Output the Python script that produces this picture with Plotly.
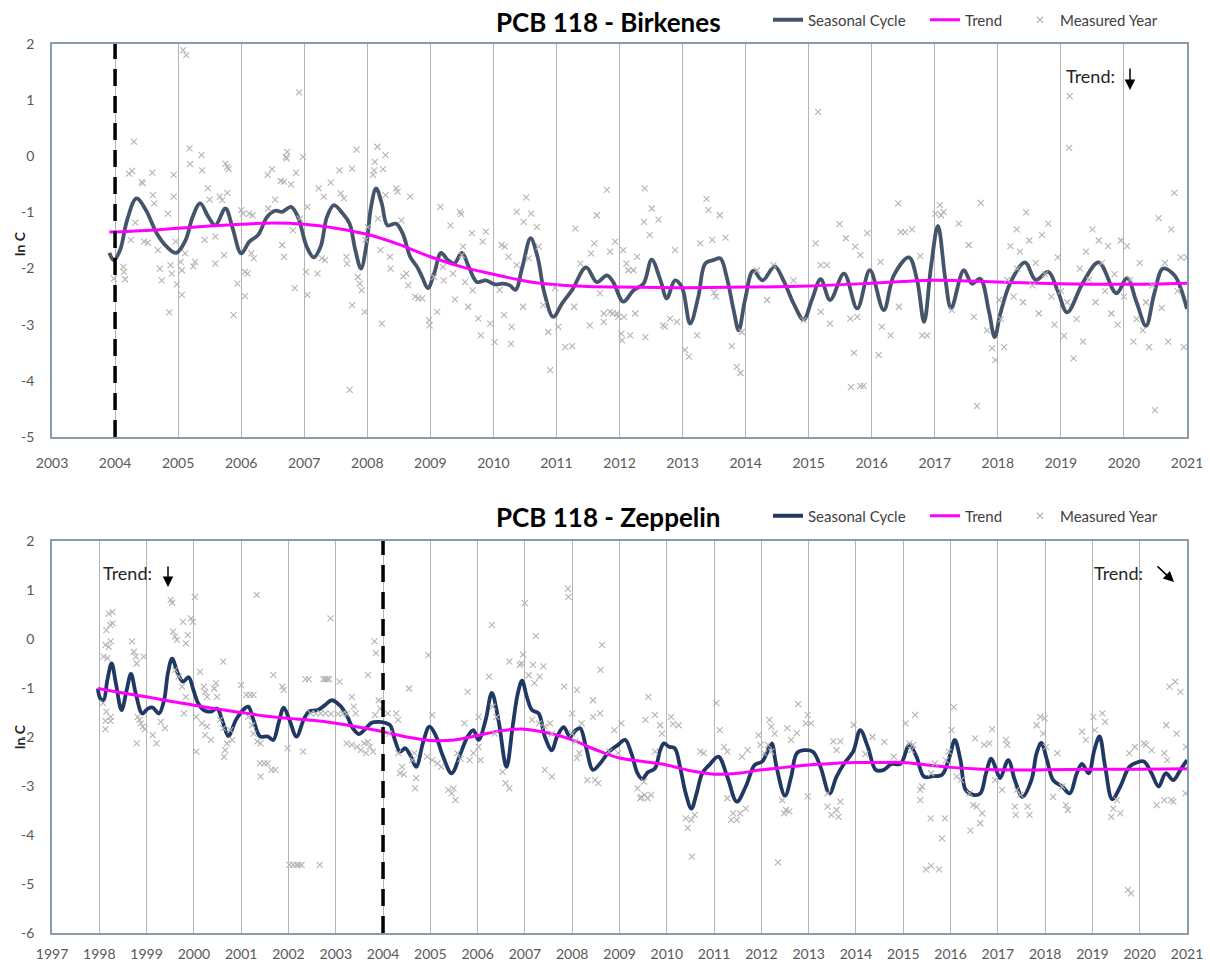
import plotly.graph_objects as go

# ---------------- DATA ----------------
top_title = "PCB 118 - Birkenes"
bottom_title = "PCB 118 - Zeppelin"
legend_names = ["Seasonal Cycle", "Trend", "Measured Year"]

top_x_ticks = list(range(2003, 2022))
top_y_ticks = [-5, -4, -3, -2, -1, 0, 1, 2]
top_y_labels = ["-5", "-4", "-3", "-2", "-1", "0", "1", "2"]
bottom_x_ticks = list(range(1997, 2022))
bottom_y_ticks = [-6, -5, -4, -3, -2, -1, 0, 1, 2]
bottom_y_labels = ["-6", "-5", "-4", "-3", "-2", "-1", "0", "1", "2"]

top_start_year = 2004
bottom_start_year = 2004

top_cycle = [
    (2003.91, -1.72), (2003.98, -1.85), (2004.08, -1.67), (2004.19, -1.14), (2004.34, -0.75),
    (2004.49, -0.96), (2004.66, -1.37), (2004.82, -1.61), (2004.97, -1.72), (2005.12, -1.49),
    (2005.23, -1.08), (2005.35, -0.84), (2005.48, -1.08), (2005.59, -1.23), (2005.75, -0.93),
    (2005.86, -1.26), (2006.00, -1.73), (2006.13, -1.52), (2006.27, -1.40), (2006.41, -1.08),
    (2006.54, -0.97), (2006.65, -0.99), (2006.79, -0.90), (2006.90, -1.08), (2007.04, -1.61),
    (2007.15, -1.80), (2007.26, -1.61), (2007.36, -1.08), (2007.47, -0.87), (2007.61, -1.02),
    (2007.72, -1.20), (2007.81, -1.67), (2007.90, -2.00), (2007.99, -1.55), (2008.06, -0.90),
    (2008.14, -0.57), (2008.23, -0.84), (2008.32, -1.23), (2008.46, -1.20), (2008.57, -1.40),
    (2008.68, -1.79), (2008.79, -1.97), (2008.87, -2.15), (2008.96, -2.35), (2009.06, -2.09),
    (2009.17, -1.72), (2009.28, -1.85), (2009.38, -1.91), (2009.50, -1.72), (2009.61, -1.97),
    (2009.74, -2.24), (2009.88, -2.21), (2010.02, -2.28), (2010.15, -2.27), (2010.26, -2.30),
    (2010.35, -2.38), (2010.46, -1.97), (2010.59, -1.46), (2010.70, -1.79), (2010.81, -2.44),
    (2010.95, -2.86), (2011.09, -2.62), (2011.25, -2.38), (2011.47, -1.98), (2011.64, -2.24),
    (2011.80, -2.12), (2011.90, -2.24), (2012.06, -2.59), (2012.22, -2.39), (2012.38, -2.27),
    (2012.51, -1.84), (2012.65, -2.21), (2012.75, -2.53), (2012.88, -2.21), (2012.99, -2.33),
    (2013.12, -2.98), (2013.25, -2.50), (2013.36, -1.91), (2013.49, -1.85), (2013.60, -1.82),
    (2013.70, -2.15), (2013.81, -2.74), (2013.89, -3.10), (2013.99, -2.56), (2014.12, -2.04),
    (2014.27, -2.21), (2014.46, -1.96), (2014.60, -2.21), (2014.76, -2.62), (2014.92, -2.91),
    (2015.05, -2.56), (2015.19, -2.19), (2015.34, -2.56), (2015.56, -2.09), (2015.77, -2.71),
    (2015.97, -2.03), (2016.19, -2.74), (2016.35, -2.12), (2016.59, -1.80), (2016.72, -2.21),
    (2016.83, -2.95), (2016.94, -1.97), (2017.05, -1.24), (2017.17, -2.21), (2017.26, -2.71),
    (2017.46, -2.03), (2017.59, -2.27), (2017.72, -2.18), (2017.86, -2.77), (2017.95, -3.22),
    (2018.04, -2.80), (2018.20, -2.25), (2018.43, -1.89), (2018.60, -2.20), (2018.80, -2.06),
    (2018.95, -2.40), (2019.10, -2.78), (2019.35, -2.25), (2019.60, -1.89), (2019.88, -2.44),
    (2020.05, -2.17), (2020.20, -2.60), (2020.35, -3.02), (2020.48, -2.45), (2020.62, -2.00),
    (2020.80, -2.12), (2020.90, -2.35), (2021.00, -2.72),
]

top_trend = [
    (2003.91, -1.35), (2004.5, -1.32), (2005.0, -1.28), (2005.5, -1.24), (2006.0, -1.21),
    (2006.5, -1.19), (2007.0, -1.21), (2007.5, -1.28), (2008.0, -1.39), (2008.5, -1.57),
    (2009.0, -1.79), (2009.5, -1.97), (2010.0, -2.10), (2010.5, -2.22), (2011.0, -2.29),
    (2011.5, -2.32), (2012.0, -2.33), (2013.0, -2.34), (2014.0, -2.33), (2015.0, -2.31),
    (2016.0, -2.26), (2016.5, -2.23), (2017.0, -2.21), (2017.5, -2.22), (2018.0, -2.24),
    (2019.0, -2.27), (2020.0, -2.28), (2021.0, -2.26),
]

top_measured = [
    (2004.30, 0.26), (2004.22, -0.31), (2004.27, -0.26), (2004.42, -0.46), (2004.44, -0.48),
    (2004.59, -0.29), (2004.60, -0.69), (2004.62, -0.84), (2004.25, -1.49), (2004.32, -1.18),
    (2004.46, -1.52), (2004.52, -1.54), (2004.13, -1.97), (2004.14, -2.06), (2004.16, -2.19),
    (2003.98, -2.18), (2004.68, -1.67), (2004.71, -2.00), (2004.74, -2.21), (2004.84, -1.02),
    (2004.93, -0.33), (2004.93, -0.72), (2004.88, -1.94), (2004.90, -2.09), (2004.86, -2.78),
    (2004.96, -1.52), (2004.98, -2.28), (2005.08, 1.89), (2005.13, 1.80),
    (2005.04, -1.88), (2005.06, -2.03), (2005.06, -2.47), (2005.11, -1.73), (2005.18, 0.14),
    (2005.19, -0.14), (2005.24, -1.96), (2005.27, -1.88), (2005.37, 0.02), (2005.38, -0.25),
    (2005.42, -1.49), (2005.47, -0.57), (2005.50, -0.77), (2005.59, -1.91), (2005.59, -1.43),
    (2005.66, -0.72), (2005.70, -0.78), (2005.75, -0.13), (2005.78, -0.19), (2005.80, -0.23),
    (2005.78, -0.65), (2005.73, -1.76), (2005.88, -2.83), (2005.94, -2.27), (2006.00, -0.96),
    (2006.03, -1.02), (2006.06, -2.06), (2006.10, -2.09), (2006.06, -2.49), (2006.13, -1.02),
    (2006.18, -1.05), (2006.16, -1.73), (2006.20, -1.82), (2006.42, -0.33), (2006.49, -0.23),
    (2006.43, -0.93), (2006.54, -0.77), (2006.63, -0.44), (2006.68, -0.45), (2006.79, -0.50),
    (2006.73, 0.08), (2006.71, -0.01), (2006.72, -0.04), (2006.87, -0.29), (2006.98, -0.01),
    (2006.92, 1.14), (2006.65, -1.58), (2006.68, -1.79), (2006.85, -2.35), (2006.93, -1.11),
    (2006.82, -1.32), (2007.03, -2.06), (2007.05, -0.90), (2007.05, -2.47), (2007.21, -2.09),
    (2007.23, -0.57), (2007.28, -1.82), (2007.33, -1.85), (2007.31, -0.72), (2007.42, -0.47),
    (2007.56, -0.25), (2007.58, -0.66), (2007.63, -0.75), (2007.67, -1.79), (2007.68, -1.91),
    (2007.72, -4.16), (2007.76, -0.22), (2007.76, -2.65), (2007.83, 0.12), (2007.85, -2.15),
    (2007.88, -2.27), (2007.91, -2.39), (2007.96, -2.77), (2007.97, -1.49), (2008.01, -1.26),
    (2008.09, -0.33), (2008.11, -0.25), (2008.12, -0.10), (2008.16, 0.17), (2008.25, -0.23),
    (2008.17, -1.11), (2008.21, -1.67), (2008.23, -2.98), (2008.29, 0.02), (2008.29, -0.69),
    (2008.37, -2.00), (2008.36, -1.79), (2008.46, -0.57), (2008.48, -0.63), (2008.54, -1.14),
    (2008.57, -2.14), (2008.62, -2.09), (2008.65, -2.30), (2008.68, -0.72), (2008.76, -2.50),
    (2008.81, -2.53), (2008.87, -2.53), (2008.98, -2.92), (2008.99, -3.01), (2009.06, -2.15),
    (2009.11, -2.77), (2009.16, -0.90), (2009.20, -1.97), (2009.21, -2.21), (2009.32, -1.23),
    (2009.36, -2.09), (2009.39, -2.55), (2009.47, -0.99), (2009.49, -1.03), (2009.50, -1.76),
    (2009.52, -1.61), (2009.55, -2.24), (2009.60, -2.68), (2009.66, -1.37), (2009.67, -2.39),
    (2009.76, -2.89), (2009.80, -3.19), (2009.83, -1.52), (2009.88, -1.34), (2009.95, -2.98),
    (2010.02, -3.31), (2010.10, -2.38), (2010.13, -1.58), (2010.18, -1.61), (2010.17, -2.83),
    (2010.24, -1.79), (2010.29, -3.04), (2010.28, -3.34), (2010.37, -0.99), (2010.37, -1.94),
    (2010.48, -1.17), (2010.52, -0.73), (2010.60, -1.02), (2010.56, -1.82), (2010.47, -2.68),
    (2010.69, -1.26), (2010.72, -1.61), (2010.87, -3.13), (2010.90, -3.81), (2010.79, -2.65),
    (2011.03, -3.04), (2010.98, -2.35), (2011.14, -3.40), (2011.25, -3.38), (2011.30, -1.29),
    (2011.28, -2.68), (2011.38, -1.91), (2011.53, -3.01), (2011.55, -1.73), (2011.60, -1.55),
    (2011.64, -1.05), (2011.69, -2.44), (2011.75, -2.80), (2011.80, -0.60), (2011.85, -1.70),
    (2011.93, -1.52), (2011.96, -2.80), (2012.03, -3.16), (2012.11, -1.91), (2011.85, -2.77),
    (2011.89, -2.80), (2011.75, -2.95), (2011.98, -2.86), (2012.04, -3.28), (2012.07, -2.86),
    (2012.06, -1.67), (2012.14, -2.03), (2012.22, -2.03), (2012.17, -3.19), (2012.25, -2.80),
    (2012.28, -1.79), (2012.41, -3.22), (2012.39, -1.17), (2012.51, -0.93), (2012.48, -1.40),
    (2012.62, -1.13), (2012.40, -0.57), (2012.72, -3.04), (2012.69, -3.01), (2012.80, -2.89),
    (2012.91, -2.95), (2012.88, -1.67), (2013.04, -3.45), (2013.10, -3.57), (2013.23, -3.19),
    (2013.28, -1.55), (2013.38, -0.76), (2013.41, -0.96), (2013.47, -1.49), (2013.59, -1.05),
    (2013.68, -1.45), (2013.50, -2.43), (2013.53, -2.50), (2013.78, -3.38), (2013.86, -3.75),
    (2013.92, -3.86), (2013.94, -3.13), (2014.18, -2.03), (2014.44, -1.94), (2014.34, -2.56),
    (2014.76, -2.21), (2014.92, -2.92), (2015.15, 0.79), (2015.11, -1.55), (2015.19, -1.94),
    (2015.29, -1.94), (2015.19, -2.77), (2015.34, -2.98), (2015.49, -1.21), (2015.59, -1.46),
    (2015.66, -2.89), (2015.72, -3.50), (2015.67, -4.11), (2015.82, -4.09), (2015.87, -4.09),
    (2015.77, -2.86), (2015.74, -1.61), (2015.82, -1.76), (2015.93, -1.37), (2016.14, -1.88),
    (2016.11, -3.54), (2016.16, -3.04), (2016.30, -3.19), (2016.42, -0.84), (2016.46, -1.35),
    (2016.53, -1.35), (2016.64, -1.30), (2016.43, -2.68), (2016.77, -1.78), (2016.80, -3.19),
    (2016.88, -3.19), (2017.01, -1.02), (2017.08, -0.87), (2017.14, -0.99), (2017.10, -1.05),
    (2017.27, -2.74), (2017.38, -1.20), (2017.54, -1.58), (2017.73, -0.83), (2017.67, -4.45),
    (2017.62, -2.86), (2017.91, -3.42), (2017.96, -3.63), (2017.83, -3.10), (2018.02, -2.56),
    (2018.05, -2.90), (2018.10, -3.40), (2018.15, -2.20), (2018.20, -1.60), (2018.25, -2.50),
    (2018.30, -1.30), (2018.31, -2.00), (2018.35, -1.70), (2018.40, -2.60), (2018.45, -1.00),
    (2018.50, -1.50), (2018.55, -2.30), (2018.60, -1.90), (2018.65, -2.80), (2018.70, -1.40),
    (2018.75, -2.10), (2018.80, -1.20), (2018.85, -2.50), (2018.90, -3.00), (2018.95, -1.80),
    (2019.00, -2.40), (2019.05, -3.20), (2019.10, -2.60), (2019.14, 1.07), (2019.13, 0.15),
    (2019.20, -3.60), (2019.25, -2.90), (2019.30, -2.00), (2019.35, -3.30), (2019.40, -1.70),
    (2019.45, -2.20), (2019.50, -1.30), (2019.55, -2.60), (2019.60, -1.50), (2019.65, -1.90),
    (2019.70, -2.40), (2019.75, -1.60), (2019.80, -2.80), (2019.85, -2.10), (2019.90, -3.00),
    (2019.95, -1.50), (2020.00, -2.50), (2020.05, -1.60), (2020.10, -2.20), (2020.15, -3.30),
    (2020.20, -2.90), (2020.25, -1.90), (2020.30, -3.10), (2020.35, -2.60), (2020.40, -3.40),
    (2020.45, -2.30), (2020.49, -4.52), (2020.55, -1.10), (2020.60, -2.70), (2020.65, -1.90),
    (2020.70, -3.30), (2020.75, -1.30), (2020.80, -0.65), (2020.85, -2.40), (2020.90, -1.80),
    (2020.95, -3.40), (2021.00, -1.80),
]

bottom_cycle = [
    (1997.97, -1.01), (1998.02, -1.21), (1998.09, -1.25), (1998.17, -0.84), (1998.26, -0.50),
    (1998.35, -0.90), (1998.47, -1.45), (1998.58, -1.04), (1998.67, -0.71), (1998.77, -1.11),
    (1998.91, -1.52), (1999.03, -1.42), (1999.13, -1.40), (1999.26, -1.52), (1999.37, -1.25),
    (1999.45, -0.70), (1999.54, -0.40), (1999.66, -0.70), (1999.77, -0.87), (1999.89, -0.78),
    (1999.99, -1.04), (2000.09, -1.31), (2000.21, -1.45), (2000.36, -1.48), (2000.49, -1.42),
    (2000.62, -1.72), (2000.73, -1.98), (2000.89, -1.65), (2001.04, -1.45), (2001.15, -1.38),
    (2001.26, -1.65), (2001.40, -1.99), (2001.56, -1.99), (2001.68, -2.06), (2001.79, -1.72),
    (2001.90, -1.40), (2002.02, -1.65), (2002.17, -1.99), (2002.32, -1.65), (2002.43, -1.48),
    (2002.62, -1.45), (2002.77, -1.35), (2002.92, -1.25), (2003.08, -1.35), (2003.23, -1.55),
    (2003.36, -1.82), (2003.49, -1.94), (2003.60, -1.86), (2003.76, -1.71), (2003.91, -1.69),
    (2004.04, -1.71), (2004.15, -1.76), (2004.25, -2.06), (2004.36, -2.30), (2004.47, -2.23),
    (2004.59, -2.40), (2004.70, -2.61), (2004.85, -2.10), (2004.98, -1.79), (2005.11, -1.96),
    (2005.27, -2.40), (2005.45, -2.74), (2005.64, -2.33), (2005.79, -1.99), (2005.91, -1.86),
    (2006.02, -2.06), (2006.17, -1.65), (2006.30, -1.10), (2006.44, -1.65), (2006.61, -2.61),
    (2006.74, -1.79), (2006.85, -1.11), (2006.94, -0.85), (2007.04, -1.18), (2007.15, -1.45),
    (2007.29, -1.52), (2007.42, -1.99), (2007.57, -2.27), (2007.68, -1.99), (2007.82, -1.80),
    (2007.95, -1.99), (2008.08, -1.86), (2008.17, -1.82), (2008.29, -2.20), (2008.44, -2.67),
    (2008.59, -2.54), (2008.78, -2.30), (2008.97, -2.16), (2009.12, -2.06), (2009.25, -2.33),
    (2009.38, -2.74), (2009.48, -2.86), (2009.60, -2.72), (2009.75, -2.64), (2009.86, -2.27),
    (2009.94, -2.13), (2010.05, -2.20), (2010.17, -2.23), (2010.28, -2.61), (2010.40, -3.15),
    (2010.52, -3.46), (2010.63, -3.15), (2010.75, -2.74), (2010.90, -2.57), (2011.09, -2.40),
    (2011.28, -2.81), (2011.48, -3.32), (2011.67, -3.01), (2011.86, -2.57), (2012.02, -2.50),
    (2012.17, -2.20), (2012.22, -2.13), (2012.32, -2.61), (2012.50, -3.20), (2012.63, -2.81),
    (2012.75, -2.33), (2012.90, -2.27), (2013.09, -2.30), (2013.25, -2.61), (2013.44, -3.15),
    (2013.59, -2.81), (2013.75, -2.54), (2013.94, -2.30), (2014.09, -1.86), (2014.25, -2.20),
    (2014.42, -2.67), (2014.59, -2.67), (2014.75, -2.55), (2014.94, -2.55), (2015.13, -2.16),
    (2015.28, -2.40), (2015.44, -2.81), (2015.63, -2.80), (2015.82, -2.77), (2015.98, -2.40),
    (2016.09, -2.06), (2016.21, -2.47), (2016.32, -3.08), (2016.48, -3.18), (2016.63, -3.15),
    (2016.75, -2.74), (2016.86, -2.44), (2016.98, -2.71), (2017.05, -2.84), (2017.22, -2.47),
    (2017.36, -2.88), (2017.52, -3.22), (2017.71, -2.88), (2017.82, -2.33), (2017.92, -2.12),
    (2018.04, -2.47), (2018.17, -2.88), (2018.36, -3.01), (2018.52, -3.15), (2018.67, -2.74),
    (2018.78, -2.55), (2018.92, -2.74), (2019.04, -2.27), (2019.15, -1.99), (2019.27, -2.61),
    (2019.42, -3.27), (2019.59, -3.01), (2019.78, -2.61), (2019.94, -2.52), (2020.09, -2.50),
    (2020.25, -2.74), (2020.40, -3.01), (2020.55, -2.74), (2020.71, -2.88), (2020.86, -2.67),
    (2021.00, -2.47),
]

bottom_trend = [
    (1997.97, -1.01), (1998.5, -1.10), (1999.0, -1.18), (1999.5, -1.27), (2000.0, -1.35),
    (2000.5, -1.43), (2001.0, -1.50), (2001.5, -1.57), (2002.0, -1.62), (2002.5, -1.66),
    (2003.0, -1.72), (2003.5, -1.80), (2004.0, -1.89), (2004.5, -2.00), (2005.0, -2.07),
    (2005.5, -2.06), (2006.0, -1.97), (2006.5, -1.87), (2007.0, -1.84), (2007.5, -1.92),
    (2008.0, -2.06), (2008.5, -2.26), (2009.0, -2.43), (2009.5, -2.50), (2010.0, -2.57),
    (2010.5, -2.69), (2011.0, -2.76), (2011.5, -2.74), (2012.0, -2.67), (2012.5, -2.62),
    (2013.0, -2.57), (2013.5, -2.54), (2014.0, -2.52), (2014.5, -2.52), (2015.0, -2.52),
    (2015.5, -2.57), (2016.0, -2.62), (2016.5, -2.65), (2017.0, -2.67), (2018.0, -2.67),
    (2019.0, -2.66), (2020.0, -2.66), (2021.0, -2.65),
]

bottom_measured = [
    (1998.20, 0.52), (1998.28, 0.55), (1998.15, 0.18), (1998.23, 0.29), (1998.28, 0.32),
    (1998.13, -0.12), (1998.20, -0.16), (1998.24, -0.05), (1998.09, -0.36), (1998.17, -0.39),
    (1998.08, -1.31), (1998.15, -1.48), (1998.24, -1.59), (1998.13, -1.67), (1998.24, -1.67),
    (1998.13, -1.84), (1998.69, -0.05), (1998.73, -0.26), (1998.77, -0.36), (1998.79, -0.50),
    (1998.94, -0.36), (1998.81, -1.59), (1998.85, -1.65), (1998.88, -1.72), (1998.92, -1.79),
    (1998.96, -1.84), (1998.79, -2.13), (1999.13, -1.96), (1999.21, -2.13), (1999.30, -1.69),
    (1999.39, -1.82), (1999.51, 0.80), (1999.54, 0.74), (1999.56, 0.15), (1999.64, -0.02),
    (1999.60, 0.05), (1999.77, 0.35), (1999.83, -0.09), (1999.87, 0.08), (1999.94, 0.42),
    (1999.98, 0.35), (2000.02, 0.86), (1999.60, -0.63), (1999.68, -0.77), (1999.75, -0.97),
    (1999.83, -1.18), (1999.79, -1.52), (2000.13, -0.67), (2000.21, -0.97), (2000.24, -1.08),
    (2000.28, -1.18), (2000.05, -1.59), (2000.17, -1.72), (2000.28, -1.79), (2000.05, -2.30),
    (2000.24, -1.96), (2000.36, -2.06), (2000.47, -0.90), (2000.43, -1.01), (2000.49, -1.18),
    (2000.62, -0.46), (2000.55, -1.65), (2000.62, -1.82), (2000.70, -2.13), (2000.66, -2.27),
    (2000.64, -2.40), (2000.77, -1.86), (2000.81, -2.06), (2001.00, -0.94), (2001.11, -1.14),
    (2001.19, -1.14), (2001.26, -1.14), (2001.15, -1.59), (2001.23, -1.76), (2001.26, -1.93),
    (2001.34, -2.09), (2001.41, -2.13), (2001.40, -2.54), (2001.49, -2.54), (2001.56, -2.54),
    (2001.64, -2.67), (2001.72, -2.67), (2001.41, -2.81), (2001.33, 0.90), (2001.68, -0.73),
    (2001.87, -0.97), (2001.90, -1.04), (2001.98, -2.23), (2002.31, -2.30), (2002.36, -0.82),
    (2002.43, -0.82), (2002.74, -0.82), (2002.78, -0.82), (2002.82, -0.82), (2002.86, -0.82),
    (2003.08, -0.87), (2002.02, -4.61), (2002.10, -4.61), (2002.17, -4.61), (2002.22, -4.61),
    (2002.28, -4.61), (2002.66, -4.61), (2002.47, -1.52), (2002.58, -1.52), (2002.68, -1.52),
    (2002.78, -1.52), (2002.90, -1.53), (2003.05, -1.53), (2003.15, -1.53), (2003.23, -1.53),
    (2002.89, 0.42), (2003.34, -1.18), (2003.38, -1.38), (2003.42, -1.52), (2003.23, -2.13),
    (2003.34, -2.16), (2003.45, -2.20), (2003.53, -2.27), (2003.64, -2.33), (2003.60, -2.13),
    (2003.72, -2.20), (2003.79, -2.30), (2003.68, -2.10), (2003.68, -0.73), (2003.82, -0.05),
    (2003.85, -0.29), (2003.91, -1.25), (2003.94, -1.42), (2003.83, -1.55), (2004.10, -1.52),
    (2004.13, -1.93), (2004.28, -1.52), (2004.32, -1.65), (2004.32, -2.33), (2004.40, -2.61),
    (2004.36, -2.74), (2004.44, -2.77), (2004.55, -1.01), (2004.66, -2.33), (2004.62, -2.47),
    (2004.70, -2.84), (2004.68, -3.05), (2004.96, -0.33), (2005.04, -1.55), (2004.93, -2.40),
    (2005.04, -2.47), (2005.15, -2.54), (2005.23, -2.61), (2005.38, -3.08), (2005.45, -3.15),
    (2005.49, -3.05), (2005.53, -3.29), (2005.57, -2.33), (2005.64, -2.44), (2005.72, -1.72),
    (2005.79, -1.08), (2005.83, -2.47), (2005.91, -2.33), (2006.02, -1.59), (2006.02, -2.20),
    (2006.06, -2.47), (2006.24, -0.77), (2006.30, 0.29), (2006.32, -1.38), (2006.40, -1.59),
    (2006.36, -1.93), (2006.53, -2.71), (2006.59, -2.94), (2006.67, -3.05), (2006.67, -0.46),
    (2006.89, -0.53), (2006.93, -0.50), (2007.00, 0.73), (2007.08, -0.74), (2006.96, -0.32),
    (2007.17, -0.53), (2007.23, 0.06), (2007.20, -0.90), (2007.31, -0.77), (2007.39, -0.56),
    (2007.15, -1.65), (2007.30, -1.72), (2007.42, -1.79), (2007.53, -1.72), (2007.57, -1.93),
    (2007.42, -2.67), (2007.57, -2.81), (2007.91, 1.03), (2007.92, 0.86), (2007.83, -0.97),
    (2008.10, -1.04), (2008.00, -1.52), (2008.20, -1.72), (2008.00, -1.93), (2008.10, -2.43),
    (2008.15, -2.33), (2008.07, -2.09), (2008.44, -1.25), (2008.44, -1.59), (2008.59, -1.52),
    (2008.63, -0.12), (2008.60, -0.63), (2008.32, -2.88), (2008.48, -2.88), (2008.55, -2.94),
    (2008.78, -2.30), (2008.89, -1.86), (2009.04, -1.72), (2008.97, -2.33), (2009.38, -3.05),
    (2009.46, -3.22), (2009.53, -3.18), (2009.61, -1.18), (2009.55, -1.65), (2009.75, -1.55),
    (2009.86, -1.76), (2010.09, -1.59), (2010.13, -1.73), (2010.25, -1.76), (2009.90, -1.93),
    (2009.52, -2.91), (2009.67, -3.18), (2009.59, -3.25), (2009.44, -3.25), (2009.75, -2.30),
    (2010.40, -3.66), (2010.52, -3.69), (2010.59, -3.59), (2010.44, -3.86), (2010.53, -4.44),
    (2010.71, -2.30), (2010.78, -2.33), (2011.05, -1.31), (2011.12, -1.86), (2011.21, -2.20),
    (2011.28, -2.30), (2011.36, -3.69), (2011.48, -3.69), (2011.40, -3.56), (2011.55, -3.56),
    (2011.67, -3.46), (2011.28, -3.25), (2011.59, -2.40), (2011.71, -2.27), (2011.94, -1.96),
    (2012.17, -1.65), (2012.21, -1.79), (2012.28, -1.93), (2011.98, -2.16), (2012.06, -2.33),
    (2012.14, -2.16), (2012.21, -2.30), (2012.35, -4.56), (2012.44, -3.29), (2012.52, -3.49),
    (2012.59, -3.52), (2012.48, -3.56), (2012.55, -1.82), (2012.63, -2.06), (2012.78, -1.33),
    (2012.75, -1.92), (2012.94, -1.72), (2012.98, -1.55), (2013.05, -1.72), (2012.98, -3.21),
    (2013.40, -3.42), (2013.48, -3.59), (2013.63, -3.63), (2013.59, -3.49), (2013.40, -3.15),
    (2013.67, -3.32), (2013.52, -2.09), (2013.59, -2.27), (2013.67, -2.09), (2013.95, -1.75),
    (2014.20, -2.35), (2014.35, -2.00), (2014.60, -2.10), (2014.80, -2.40), (2015.05, -1.72),
    (2015.25, -1.55), (2015.13, -2.13), (2015.17, -2.27), (2015.21, -2.16), (2015.36, -3.08),
    (2015.40, -3.01), (2015.36, -3.29), (2015.58, -3.66), (2015.88, -3.66), (2015.82, -4.07),
    (2015.48, -4.70), (2015.59, -4.63), (2015.76, -4.70), (2015.59, -2.74), (2015.67, -2.54),
    (2015.90, -2.47), (2016.07, -1.39), (2016.02, -1.86), (2015.96, -2.30), (2016.13, -2.81),
    (2016.22, -2.88), (2016.40, -3.15), (2016.48, -3.39), (2016.55, -3.42), (2016.67, -3.56),
    (2016.63, -3.76), (2016.42, -3.91), (2016.52, -2.03), (2016.71, -2.16), (2016.82, -2.13),
    (2016.88, -1.84), (2016.94, -2.88), (2017.09, -3.08), (2017.17, -2.06), (2017.20, -2.16),
    (2017.36, -3.42), (2017.38, -3.59), (2017.63, -3.42), (2017.67, -3.59), (2017.40, -3.08),
    (2017.48, -3.18), (2017.82, -1.76), (2017.90, -1.59), (2017.99, -1.62), (2017.96, -1.93),
    (2018.02, -2.20), (2018.26, -2.33), (2018.17, -3.22), (2018.36, -3.01), (2018.44, -3.39),
    (2018.48, -3.49), (2018.78, -1.89), (2018.86, -2.06), (2019.02, -1.59), (2019.05, -1.86),
    (2019.21, -1.52), (2019.27, -1.69), (2019.40, -3.63), (2019.59, -3.56), (2019.44, -3.46),
    (2019.52, -3.29), (2019.75, -5.12), (2019.82, -5.19), (2019.78, -2.33), (2019.90, -2.20),
    (2020.09, -2.13), (2020.13, -2.16), (2020.25, -2.27), (2020.36, -3.39), (2020.52, -3.29),
    (2020.67, -3.29), (2020.71, -3.32), (2020.56, -1.76), (2020.78, -1.93), (2020.58, -2.47),
    (2020.52, -2.33), (2020.63, -0.97), (2020.75, -0.87), (2020.86, -1.08), (2020.98, -2.20),
    (2020.97, -3.15),
]

# ---------------- STYLE / LAYOUT ----------------
W, H = 1210, 964
FONT = "Lato"
TICK_COLOR = "#595959"
GRID = "#B4B4B4"
AXIS = "#8C9AAE"
TOP_CYCLE_COLOR = "#44546A"
BOTTOM_CYCLE_COLOR = "#1F3864"
TREND_COLOR = "#FF00FF"
MEAS_COLOR = "#B4B4B4"


def px_x(p):
    return p / W


def px_y(p):
    return 1 - p / H


def split(pairs):
    return [p[0] for p in pairs], [p[1] for p in pairs]


fig = go.Figure()


def add_panel(cycle, trend, measured, xa, ya, legends, cycle_color):
    cx, cy = split(cycle)
    tx, ty = split(trend)
    mx, my = split(measured)
    fig.add_trace(go.Scatter(x=cx, y=cy, mode="lines", name=legend_names[0], showlegend=True,
                             line=dict(color=cycle_color, width=3.8, shape="spline", smoothing=1.0),
                             xaxis=xa, yaxis=ya, legend=legends[0]))
    fig.add_trace(go.Scatter(x=tx, y=ty, mode="lines", name=legend_names[1], showlegend=True,
                             line=dict(color=TREND_COLOR, width=3, shape="spline", smoothing=1.0),
                             xaxis=xa, yaxis=ya, legend=legends[1]))
    fig.add_trace(go.Scatter(x=mx, y=my, mode="markers", name=legend_names[2], showlegend=True,
                             marker=dict(symbol="x-thin", size=6,
                                         line=dict(color=MEAS_COLOR, width=1.1)),
                             xaxis=xa, yaxis=ya, legend=legends[2]))


add_panel(top_cycle, top_trend, top_measured, "x", "y",
          ["legend", "legend2", "legend3"], TOP_CYCLE_COLOR)
add_panel(bottom_cycle, bottom_trend, bottom_measured, "x2", "y2",
          ["legend4", "legend5", "legend6"], BOTTOM_CYCLE_COLOR)

axis_common = dict(zeroline=False, automargin=False,
                   showline=True, linecolor=AXIS, linewidth=1.5, mirror=True,
                   tickfont=dict(family=FONT, size=14, color=TICK_COLOR), ticks="")
xgrid = dict(showgrid=True, gridcolor=GRID, gridwidth=1)

top_dom_x = [px_x(52), px_x(1187)]
top_dom_y = [px_y(437), px_y(44)]
bot_dom_y = [px_y(933), px_y(541)]

legend_common = dict(orientation="h", xanchor="left", yanchor="middle",
                     font=dict(family=FONT, size=15, color="#404040"),
                     bgcolor="rgba(0,0,0,0)", itemwidth=30, visible=True)
legend_x = [768, 925, 1020]

fig.update_layout(
    width=W, height=H, margin=dict(l=0, r=0, t=0, b=0, autoexpand=False),
    paper_bgcolor="white", plot_bgcolor="white", showlegend=True,
    font=dict(family=FONT, color="#262626"),
    xaxis=dict(domain=top_dom_x, anchor="y", range=[top_x_ticks[0], top_x_ticks[-1]],
               tickvals=top_x_ticks, ticktext=[str(v) for v in top_x_ticks],
               ticklabelstandoff=12, **xgrid, **axis_common),
    yaxis=dict(domain=top_dom_y, anchor="x", range=[top_y_ticks[0], top_y_ticks[-1]],
               tickvals=top_y_ticks, ticktext=top_y_labels, showgrid=False,
               ticklabelstandoff=13, **axis_common),
    xaxis2=dict(domain=top_dom_x, anchor="y2", range=[bottom_x_ticks[0], bottom_x_ticks[-1]],
                tickvals=bottom_x_ticks, ticktext=[str(v) for v in bottom_x_ticks],
                ticklabelstandoff=7, **xgrid, **axis_common),
    yaxis2=dict(domain=bot_dom_y, anchor="x2", range=[bottom_y_ticks[0], bottom_y_ticks[-1]],
                tickvals=bottom_y_ticks, ticktext=bottom_y_labels, showgrid=False,
                ticklabelstandoff=13, **axis_common),
    legend=dict(x=px_x(legend_x[0]), y=px_y(20), **legend_common),
    legend2=dict(x=px_x(legend_x[1]), y=px_y(20), **legend_common),
    legend3=dict(x=px_x(legend_x[2]), y=px_y(20), **legend_common),
    legend4=dict(x=px_x(legend_x[0]), y=px_y(516), **legend_common),
    legend5=dict(x=px_x(legend_x[1]), y=px_y(516), **legend_common),
    legend6=dict(x=px_x(legend_x[2]), y=px_y(516), **legend_common),
)

# start-of-series dashed lines
for xa, ya, xv, yr in [("x", "y", top_start_year, top_y_ticks),
                       ("x2", "y2", bottom_start_year, bottom_y_ticks)]:
    fig.add_shape(type="line", xref=xa, yref=ya, x0=xv, x1=xv, y0=yr[0], y1=yr[-1],
                  line=dict(color="black", width=3.5, dash="17px,10px"), layer="above")

# titles
for title, ypix in [(top_title, 22), (bottom_title, 517)]:
    fig.add_annotation(text="<b>%s</b>" % title, xref="paper", yref="paper",
                       x=px_x(608), y=px_y(ypix), xanchor="center", yanchor="middle",
                       showarrow=False, font=dict(family=FONT, size=26, color="black"))

# y-axis titles
for ypix in [244, 737]:
    fig.add_annotation(text="<b>ln C</b>", xref="paper", yref="paper",
                       x=px_x(19), y=px_y(ypix), xanchor="center", yanchor="middle",
                       textangle=-90, showarrow=False,
                       font=dict(family=FONT, size=14, color="#262626"))

# "Trend:" labels with arrows
trend_labels = [(1064, 76, (1130, 90), (0, -23)),
                (101, 573, (168, 587), (0, -22)),
                (1092, 573, (1174, 582), (-18, -17))]
for tx_pix, ty_pix, head, off in trend_labels:
    fig.add_annotation(text="Trend:", xref="paper", yref="paper",
                       x=px_x(tx_pix), y=px_y(ty_pix), xanchor="left", yanchor="middle",
                       showarrow=False, font=dict(family=FONT, size=18, color="#262626"))
    fig.add_annotation(text="", xref="paper", yref="paper",
                       x=px_x(head[0]), y=px_y(head[1]), ax=off[0], ay=off[1],
                       showarrow=True, arrowhead=2, arrowsize=1.4, arrowwidth=1.5,
                       arrowcolor="black", standoff=0)

fig.write_html("out.html")
